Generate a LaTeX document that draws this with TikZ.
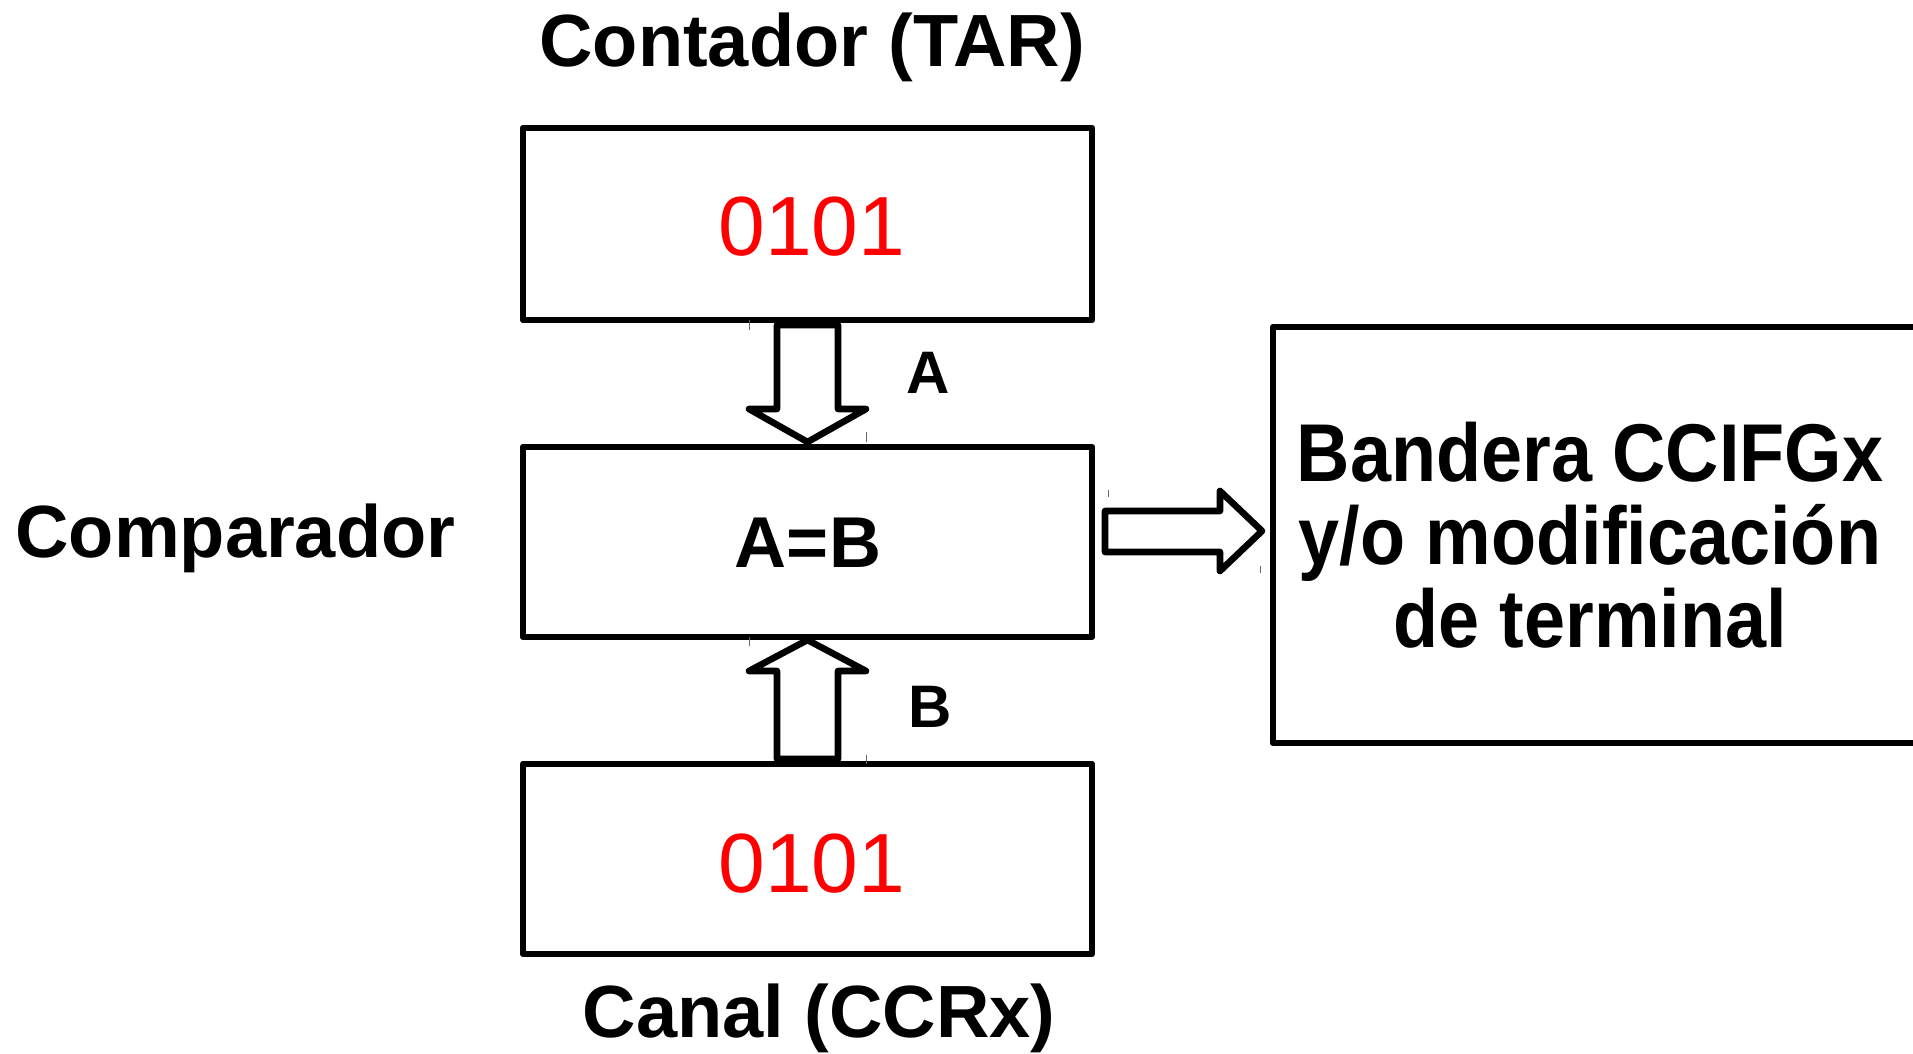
\documentclass[tikz,border=0pt]{standalone}
\usepackage{fontspec}
\setmainfont{Liberation Sans}
\newfontfamily\condbold[FakeStretch=0.90]{Liberation Sans Bold}
\begin{document}
\begin{tikzpicture}[x=0.5pt,y=-0.5pt,
  blockbox/.style={draw=black,line width=3.3pt,line join=round,fill=white,
    inner sep=0pt,outer sep=0pt},
  blockarrow/.style={draw=black,line width=3.3pt,line join=round,fill=white},
  title/.style={font=\bfseries\fontsize{37pt}{40pt}\selectfont,inner sep=0pt},
  bits/.style={text=red,font=\fontsize{42pt}{44pt}\selectfont,inner sep=0pt},
  letter/.style={font=\bfseries\fontsize{30pt}{32pt}\selectfont,inner sep=0pt},
  tick/.style={draw=black!60,line width=0.4pt}]
\useasboundingbox (0,0) rectangle (1913,1054);

% registers and comparator
\node[blockbox,minimum width=284.5pt,minimum height=96pt] (tar) at (807.5,224) {};
\node[blockbox,minimum width=284.5pt,minimum height=95pt] (cmp) at (807.5,542) {};
\node[blockbox,minimum width=284.5pt,minimum height=95pt] (ccr) at (807.5,859) {};
\node[blockbox,minimum width=321.5pt,minimum height=208pt] (flag) at (1594.5,535) {};

% captions
\node[title,anchor=base] (tarlbl) at (812,67) {Contador (TAR)};
\node[title,anchor=base west] (cmplbl) at (15,557) {Comparador};
\node[title,anchor=base] (ccrlbl) at (819,1037) {Canal (CCRx)};

% register contents
\node[bits,anchor=base] (tarval) at (812,256) {0101};
\node[bits,anchor=base] (ccrval) at (812,892) {0101};
\node[title,font=\bfseries\fontsize{36pt}{38pt}\selectfont,anchor=base] (eq) at (808,567) {A=B};

% result text
\node[align=center,inner sep=0pt,font=\condbold\fontsize{41pt}{41.5pt}\selectfont]
  (flagtxt) at (1590,535) {Bandera CCIFGx\\y/o modificación\\de terminal};

% block arrows
\draw[blockarrow] (777,325) -- (838,325) -- (838,409) -- (866,409) -- (807.5,442)
  -- (749,409) -- (777,409) -- cycle;
\draw[blockarrow] (777,759) -- (777,671) -- (749,671) -- (807.5,640)
  -- (866,671) -- (838,671) -- (838,759) -- cycle;
\draw[blockarrow] (1105,511) -- (1220,511) -- (1220,491) -- (1262,531)
  -- (1220,571) -- (1220,552) -- (1105,552) -- cycle;

% arrow labels
\node[letter,anchor=base] (alab) at (928,393) {A};
\node[letter,anchor=base] (blab) at (930,727) {B};

% small corner marks
\draw[tick] (749,320) -- (749,330);
\draw[tick] (866,432) -- (866,442);
\draw[tick] (749,637) -- (749,646);
\draw[tick] (866,755) -- (866,764);
\draw[tick] (1108,490) -- (1108,497);
\draw[tick] (1260,566) -- (1260,573);
\end{tikzpicture}
\end{document}
